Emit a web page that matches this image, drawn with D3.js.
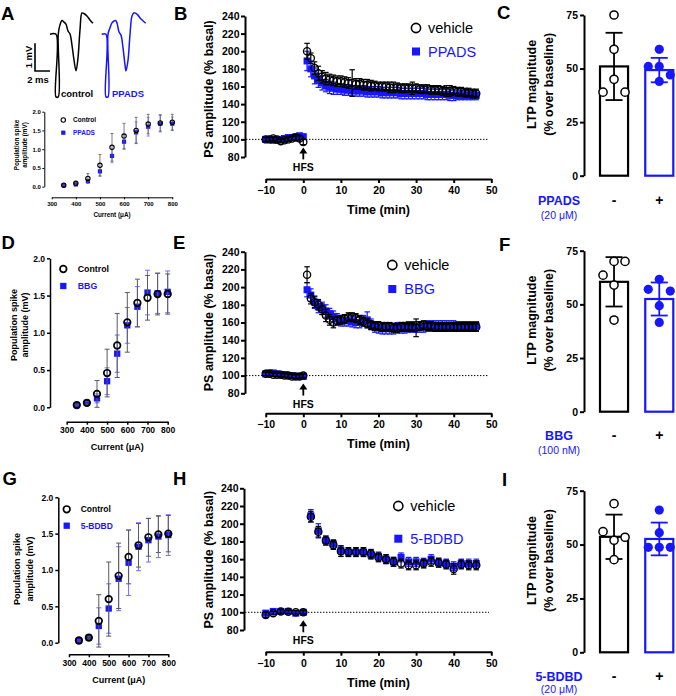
<!DOCTYPE html>
<html>
<head>
<meta charset="utf-8">
<script src="https://cdn.jsdelivr.net/npm/d3@7"></script>
<style>
body { margin: 0; background: #fff; }
</style>
</head>
<body>
<script>
// ---------- data ----------

// A: representative population spike traces (time in ms, amplitude in mV)
var ctrlTraceT = [0, 0.8, 0.8, 1.1, 1.1, 1.33, 1.6, 1.87, 2.13, 2.4, 2.67, 2.93, 3.2, 3.47, 3.73, 4.0, 4.27, 4.53, 4.93, 5.33, 5.73];
var ctrlTraceV = [0, 0, -2.26, -2.26, 0, 0.34, 0.5, 0.44, 0.37, 0.12, 0.01, -0.39, -0.93, -1.32, -0.86, 0.16, 0.77, 0.75, 0.66, 0.52, 0.4];
var drugTraceT = [0, 0.57, 0.57, 0.84, 0.84, 1.1, 1.37, 1.64, 1.84, 2.04, 2.31, 2.57, 2.84, 3.11, 3.24, 3.51, 3.77, 4.04, 4.31, 4.71, 5.24, 5.87];
var drugTraceV = [0, 0, -2.26, -2.26, 0, 0.23, 0.41, 0.48, 0.5, 0.41, 0.08, -0.03, -0.49, -1.11, -1.32, -0.93, -0.03, 0.66, 0.78, 0.73, 0.55, 0.4];
var scaleMv = 1, scaleMs = 2;

// input/output curves (A, D, G)
var currents = [350, 400, 450, 500, 550, 600, 650, 700, 750, 800];
var ioTicksX = [300, 400, 500, 600, 700, 800];
var ioTicksY = [0, 0.5, 1, 1.5, 2];

var aCtrl   = [0.04, 0.09, 0.22, 0.57, 1.05, 1.35, 1.50, 1.67, 1.70, 1.72];
var aCtrlSd = [0.01, 0.03, 0.13, 0.29, 0.37, 0.34, 0.35, 0.26, 0.22, 0.21];
var aDrug   = [0.04, 0.06, 0.15, 0.41, 0.82, 1.20, 1.45, 1.60, 1.68, 1.68];
var aDrugSd = [0.01, 0.02, 0.05, 0.12, 0.18, 0.20, 0.28, 0.25, 0.22, 0.18];

var dCtrl   = [0.03, 0.06, 0.18, 0.46, 0.83, 1.14, 1.40, 1.47, 1.52, 1.52];
var dCtrlSd = [0.01, 0.02, 0.18, 0.32, 0.43, 0.40, 0.32, 0.30, 0.28, 0.27];
var dDrug   = [0.03, 0.06, 0.12, 0.35, 0.72, 1.10, 1.35, 1.54, 1.53, 1.55];
var dDrugSd = [0.01, 0.02, 0.06, 0.18, 0.25, 0.24, 0.27, 0.30, 0.27, 0.28];

var gCtrl   = [0.03, 0.07, 0.30, 0.60, 0.92, 1.18, 1.34, 1.45, 1.49, 1.50];
var gCtrlSd = [0.01, 0.02, 0.36, 0.51, 0.45, 0.37, 0.30, 0.26, 0.25, 0.25];
var gDrug   = [0.03, 0.07, 0.23, 0.47, 0.88, 1.10, 1.32, 1.41, 1.46, 1.48];
var gDrugSd = [0.01, 0.02, 0.25, 0.34, 0.44, 0.45, 0.33, 0.30, 0.29, 0.28];

// LTP time courses (B, E, H)
var tcTicksX = [-10, 0, 10, 20, 30, 40, 50];
var tcTicksY = [80, 100, 120, 140, 160, 180, 200, 220, 240];
var timeDense = [-10, -9, -8, -7, -6, -5, -4, -3, -2, -1, 0,
  1, 2, 3, 4, 5, 6, 7, 8, 9, 10, 11, 12, 13, 14, 15, 16, 17, 18, 19, 20,
  21, 22, 23, 24, 25, 26, 27, 28, 29, 30, 31, 32, 33, 34, 35, 36, 37, 38, 39, 40,
  41, 42, 43, 44, 45, 46];
var timeSparse = [-10, -8, -6, -4, -2, 0,
  2, 4, 6, 8, 10, 12, 14, 16, 18, 20, 22, 24, 26, 28, 30, 32, 34, 36, 38, 40, 42, 44, 46];

var bVeh = [100, 100, 101, 100, 98, 99, 100, 101, 102, 101, 97,
  200, 192, 181, 175, 171, 169, 168, 167, 166, 166,
  165, 164, 164, 163, 163, 162, 162, 161, 161, 160,
  160, 160, 159, 159, 159, 158, 158, 158, 158, 158,
  157, 157, 157, 156, 156, 156, 155, 155, 155, 155,
  154, 154, 153, 153, 152, 152];
var bVehSd = [2, 2, 2, 2, 2, 2, 2, 2, 3, 3, 3,
  9, 6, 7, 8, 7, 7, 6, 6, 6, 6,
  6, 6, 15, 6, 6, 6, 6, 6, 5, 5,
  5, 5, 6, 6, 5, 5, 5, 5, 7, 5,
  5, 5, 5, 5, 5, 5, 5, 6, 6, 5,
  5, 5, 5, 5, 5, 5];
var bDrug = [100, 100, 99, 99, 100, 101, 102, 102, 103, 104, 103,
  189, 180, 172, 167, 164, 161, 159, 158, 157, 157,
  156, 156, 155, 155, 155, 155, 154, 154, 154, 154,
  153, 153, 153, 153, 153, 152, 152, 152, 152, 152,
  152, 152, 151, 151, 151, 151, 151, 151, 150, 150,
  150, 150, 150, 150, 150, 150];
var bDrugSd = [2, 2, 2, 2, 2, 2, 3, 3, 3, 3, 3,
  11, 9, 9, 8, 8, 7, 7, 7, 6, 6,
  6, 6, 6, 6, 6, 6, 6, 6, 6, 6,
  6, 6, 6, 6, 6, 6, 6, 6, 6, 6,
  6, 6, 6, 6, 6, 6, 6, 6, 6, 6,
  5, 5, 5, 5, 5, 5];

var eVeh = [102, 102, 101, 101, 101, 100, 100, 99, 99, 99, 100,
  214, 187, 183, 180, 175, 168, 163, 160, 162, 163,
  164, 166, 166, 165, 163, 161, 159, 157, 156, 156,
  155, 155, 155, 154, 154, 155, 155, 155, 155, 154,
  156, 157, 156, 156, 155, 155, 155, 155, 155, 155,
  155, 155, 155, 155, 155, 155];
var eVehSd = [2, 2, 2, 2, 2, 2, 2, 2, 2, 2, 2,
  9, 6, 6, 6, 6, 7, 6, 6, 5, 5,
  5, 5, 5, 5, 5, 5, 5, 5, 5, 5,
  5, 5, 5, 5, 5, 5, 5, 5, 5, 10,
  5, 5, 5, 5, 5, 5, 5, 5, 5, 5,
  5, 5, 5, 5, 5, 5];
var eDrug = [102, 103, 103, 102, 101, 101, 100, 100, 99, 99, 99,
  197, 191, 183, 178, 176, 173, 170, 167, 164, 162,
  162, 162, 161, 160, 160, 162, 163, 158, 155, 154,
  153, 153, 153, 153, 154, 154, 154, 155, 155, 155,
  155, 155, 156, 156, 156, 156, 156, 156, 156, 156,
  156, 156, 156, 156, 156, 156];
var eDrugSd = [2, 2, 2, 2, 2, 2, 2, 2, 2, 2, 2,
  8, 7, 7, 7, 7, 7, 6, 6, 6, 6,
  6, 6, 6, 6, 6, 6, 9, 6, 6, 6,
  6, 6, 6, 6, 6, 6, 6, 6, 6, 6,
  6, 6, 6, 6, 6, 6, 6, 6, 6, 6,
  5, 5, 5, 5, 5, 5];

var hVeh = [97, 99, 101, 100.5, 100, 100,
  208, 191, 181, 176, 169, 168, 168, 168, 166, 162,
  160, 157, 155, 153, 153, 155, 157, 156, 154, 149,
  154, 153, 153];
var hVehSd = [3, 2, 2, 2, 2, 2,
  6, 6, 5, 5, 6, 5, 5, 5, 5, 5,
  5, 5, 5, 5, 5, 5, 5, 5, 5, 6,
  5, 5, 5];
var hDrug = [99, 101, 101, 101, 99, 100,
  209, 192, 181, 177, 170, 168, 168, 168, 165, 163,
  160, 157, 162, 157, 157, 156, 160, 156, 155, 152,
  155, 155, 155];
var hDrugSd = [3, 2, 2, 2, 2, 2,
  7, 8, 5, 5, 5, 5, 5, 5, 5, 5,
  5, 5, 5, 5, 5, 5, 5, 5, 5, 5,
  5, 5, 5];

// LTP magnitude bars (C, F, I)
var groups = ["-", "+"];
var barTicksY = [0, 25, 50, 75];
var cCtrlPts = [75, 59, 45, 39, 39];
var cDrugPts = [59, 51, 51, 47, 44];
var cMean = [51, 49.3];
var cSd = [15.7, 5.7];
var fCtrlPts = [70, 63.6, 70, 59, 42.7];
var fDrugPts = [61.7, 57, 56.2, 49.4, 41.6];
var fMean = [60.5, 52.5];
var fSd = [11.5, 7.7];
var iCtrlPts = [69, 52, 56, 53.4, 43];
var iDrugPts = [66, 55.5, 48.7, 48.7, 48.7];
var iMean = [53.6, 52.6];
var iSd = [10.3, 7.6];

// ---------- drawing ----------

var FONT = "'Liberation Sans', Arial, Helvetica, sans-serif";
var blue = "#1616ff";
var lightBlue = "#6e6eff";
var grey = "#5a5a5a";

var svg = d3.select("body")
    .append("svg")
    .attr("width", 676)
    .attr("height", 696)
    .style("font-family", FONT);

function styleAxis(a, fs, sw) {
    a.attr("font-family", FONT);
    a.select(".domain").attr("stroke-width", sw);
    a.selectAll(".tick line").attr("stroke-width", sw);
    a.selectAll(".tick text")
        .attr("font-size", fs)
        .attr("font-weight", "bold")
        .attr("fill", "#000");
}

function errBars(g, data, x, y, color, cap, sw) {
    var e = g.append("g").attr("stroke", color).attr("stroke-width", sw);
    data.forEach(function(d) {
        var xx = x(d.x), y1 = y(d.v + d.sd), y2 = y(d.v - d.sd);
        e.append("line").attr("x1", xx).attr("x2", xx).attr("y1", y1).attr("y2", y2);
        e.append("line").attr("x1", xx - cap / 2).attr("x2", xx + cap / 2).attr("y1", y1).attr("y2", y1);
        e.append("line").attr("x1", xx - cap / 2).attr("x2", xx + cap / 2).attr("y1", y2).attr("y2", y2);
    });
}

function zipSeries(xs, vs, sds) {
    return xs.map(function(xv, i) {
        return {x: xv, v: vs[i], sd: sds[i]};
    });
}

function squares(g, data, x, y, side, color) {
    g.append("g").selectAll("rect").data(data).enter()
        .append("rect")
        .attr("x", function(d) { return x(d.x) - side / 2; })
        .attr("y", function(d) { return y(d.v) - side / 2; })
        .attr("width", side)
        .attr("height", side)
        .attr("fill", color);
}

function rings(g, data, x, y, r, sw) {
    g.append("g").selectAll("circle").data(data).enter()
        .append("circle")
        .attr("cx", function(d) { return x(d.x); })
        .attr("cy", function(d) { return y(d.v); })
        .attr("r", r)
        .attr("fill", "none")
        .attr("stroke", "#000")
        .attr("stroke-width", sw);
}

function rotLabel(g, cx, cy, fs, lines, gap) {
    var t = g.append("text")
        .attr("transform", "translate(" + (cx + 0.36 * fs) + "," + cy + ") rotate(-90)")
        .attr("text-anchor", "middle")
        .attr("font-size", fs)
        .attr("font-weight", "bold");
    lines.forEach(function(l, i) {
        t.append("tspan").attr("x", 0).attr("y", i * gap).text(l);
    });
}

// panel letters
var letters = ["A", "B", "C", "D", "E", "F", "G", "H", "I"];
var letterPos = [[1, 19.5], [174, 19.5], [497, 18.5], [1.5, 249], [173, 249], [499, 250.5], [2.5, 485], [173, 485], [502, 486]];
letters.forEach(function(l, i) {
    svg.append("text")
        .attr("x", letterPos[i][0])
        .attr("y", letterPos[i][1])
        .attr("font-size", 18.5)
        .attr("font-weight", "bold")
        .text(l);
});

// ---- A: traces ----
function trace(ts, vs, x0, color) {
    var x = d3.scaleLinear().domain([0, scaleMs]).range([x0, x0 + 15]);
    var y = d3.scaleLinear().domain([0, scaleMv]).range([34.3, 6.6]);
    var pts = ts.map(function(t, i) { return [t, vs[i]]; });
    svg.append("path")
        .attr("d", d3.line()
            .x(function(d) { return x(d[0]); })
            .y(function(d) { return y(d[1]); })
            .curve(d3.curveCatmullRom.alpha(0.5))(pts))
        .attr("fill", "none")
        .attr("stroke", color)
        .attr("stroke-width", 1.5);
    return {x: x, y: y};
}

var ctrlSc = trace(ctrlTraceT, ctrlTraceV, 50, "#000");
trace(drugTraceT, drugTraceV, 101.7, blue);

// scale bar
svg.append("path")
    .attr("d", d3.line()([
        [ctrlSc.x(-scaleMs), ctrlSc.y(-0.325)],
        [ctrlSc.x(-scaleMs), ctrlSc.y(-0.325 - scaleMv)],
        [ctrlSc.x(0), ctrlSc.y(-0.325 - scaleMv)]
    ]))
    .attr("fill", "none")
    .attr("stroke", "#000")
    .attr("stroke-width", 1.6);
svg.append("text")
    .attr("transform", "translate(31.5,57) rotate(-90)")
    .attr("text-anchor", "middle")
    .attr("font-size", 9.5)
    .attr("font-weight", "bold")
    .text("1 mV");
svg.append("text")
    .attr("x", 38).attr("y", 82.5)
    .attr("text-anchor", "middle")
    .attr("font-size", 9.5)
    .attr("font-weight", "bold")
    .text("2 ms");
svg.append("text").attr("x", 61).attr("y", 97).attr("font-size", 9.5).attr("font-weight", "bold").text("control");
svg.append("text").attr("x", 112).attr("y", 97).attr("font-size", 9.5).attr("font-weight", "bold").attr("fill", blue).text("PPADS");

// ---- input/output curves ----
function ioCurve(o) {
    var x = d3.scaleLinear().domain([300, 800]).range([o.x0, o.x1]);
    var y = d3.scaleLinear().domain([0, 2]).range([o.y0, o.y2]);
    var g = svg.append("g");

    var ya = g.append("g")
        .attr("transform", "translate(" + o.ax + ",0)")
        .call(d3.axisLeft(y).tickValues(ioTicksY).tickFormat(d3.format(".1f"))
            .tickSize(o.tk).tickPadding(o.tp).tickSizeOuter(0));
    var xa = g.append("g")
        .attr("transform", "translate(0," + o.ay + ")")
        .call(d3.axisBottom(x).tickValues(ioTicksX)
            .tickSize(o.tk).tickPadding(o.tp + 0.5).tickSizeOuter(0));
    styleAxis(ya, o.fs, o.sw);
    styleAxis(xa, o.fs, o.sw);

    g.append("text")
        .attr("x", (o.x0 + o.x1) / 2)
        .attr("y", o.xly)
        .attr("text-anchor", "middle")
        .attr("font-size", o.lfs)
        .attr("font-weight", "bold")
        .text("Current (\u03bcA)");
    rotLabel(g, o.ylx, o.yly, o.lfs, ["Population spike", "amplitude (mV)"], o.gap);

    var ctrl = zipSeries(currents, o.ctrl, o.ctrlSd);
    var drug = zipSeries(currents, o.drug, o.drugSd);
    errBars(g, drug, x, y, lightBlue, o.cap, o.esw);
    squares(g, drug, x, y, o.sq, blue);
    errBars(g, ctrl, x, y, grey, o.cap, o.esw);
    rings(g, ctrl, x, y, o.r, o.rsw);

    // legend
    g.append("circle").attr("cx", o.lx).attr("cy", o.ly1).attr("r", o.r)
        .attr("fill", "none").attr("stroke", "#000").attr("stroke-width", o.rsw);
    g.append("rect").attr("x", o.lx - o.sq / 2).attr("y", o.ly2 - o.sq / 2)
        .attr("width", o.sq).attr("height", o.sq).attr("fill", blue);
    g.append("text").attr("x", o.ltx).attr("y", o.ly1 + 0.36 * o.lgfs)
        .attr("font-size", o.lgfs).attr("font-weight", "bold").text("Control");
    g.append("text").attr("x", o.ltx).attr("y", o.ly2 + 0.36 * o.lgfs)
        .attr("font-size", o.lgfs).attr("font-weight", "bold").attr("fill", blue).text(o.name);
}

ioCurve({x0: 51.7, x1: 172.3, y0: 186.7, y2: 111.7, ax: 44.3, ay: 197.3,
    tk: 2, tp: 1.5, fs: 6, sw: 1, lfs: 6.3, xly: 216.5, ylx: 16.7, yly: 145, gap: 8.3,
    cap: 3, esw: 0.8, sq: 4.2, r: 2.2, rsw: 1.1,
    lx: 63.3, ly1: 120, ly2: 132.7, ltx: 73, lgfs: 6.5, name: "PPADS",
    ctrl: aCtrl, ctrlSd: aCtrlSd, drug: aDrug, drugSd: aDrugSd});

ioCurve({x0: 66.7, x1: 167.7, y0: 407.3, y2: 258.3, ax: 50, ay: 421.7,
    tk: 3, tp: 2, fs: 8.5, sw: 1.5, lfs: 9, xly: 450, ylx: 13.3, yly: 325, gap: 11.7,
    cap: 5, esw: 1, sq: 6.3, r: 3.3, rsw: 1.7,
    lx: 63.3, ly1: 269, ly2: 286, ltx: 77.7, lgfs: 8.8, name: "BBG",
    ctrl: dCtrl, ctrlSd: dCtrlSd, drug: dDrug, drugSd: dDrugSd});

ioCurve({x0: 69, x1: 168.3, y0: 642.7, y2: 497.3, ax: 58.3, ay: 654.3,
    tk: 3, tp: 2, fs: 8.5, sw: 1.5, lfs: 9, xly: 682.5, ylx: 16.7, yly: 569, gap: 13.3,
    cap: 5, esw: 1, sq: 6.3, r: 3.3, rsw: 1.7,
    lx: 66.7, ly1: 509.3, ly2: 525.7, ltx: 80.7, lgfs: 8.5, name: "5-BDBD",
    ctrl: gCtrl, ctrlSd: gCtrlSd, drug: gDrug, drugSd: gDrugSd});

// ---- LTP time courses ----
function timeCourse(o) {
    var x = d3.scaleLinear().domain([-10, 50]).range([265.7, 491.3]);
    var y = d3.scaleLinear().domain([80, 240]).range([o.yBot, o.yTop]);
    var g = svg.append("g");

    var ya = g.append("g")
        .attr("transform", "translate(" + o.ax + ",0)")
        .call(d3.axisLeft(y).tickValues(tcTicksY).tickSize(4).tickPadding(1.5).tickSizeOuter(0));
    var xa = g.append("g")
        .attr("transform", "translate(0," + o.ay + ")")
        .call(d3.axisBottom(x).tickValues(tcTicksX).tickSize(4).tickPadding(3.5).tickSizeOuter(0));
    styleAxis(ya, 10.5, 2);
    styleAxis(xa, 10.5, 2);

    g.append("text")
        .attr("x", 378.5)
        .attr("y", o.ay + 35)
        .attr("text-anchor", "middle")
        .attr("font-size", 12.5)
        .attr("font-weight", "bold")
        .text("Time (min)");
    rotLabel(g, 208, o.yly, 12.5, ["PS amplitude (% basal)"], 0);

    // baseline
    g.append("line")
        .attr("x1", o.ax + 1).attr("x2", 489)
        .attr("y1", y(100)).attr("y2", y(100))
        .attr("stroke", "#000").attr("stroke-width", 1)
        .attr("stroke-dasharray", "1.4,1.6");

    // HFS arrow
    var tip = y(100) + 8;
    g.append("line").attr("x1", x(0)).attr("x2", x(0)).attr("y1", tip + 4).attr("y2", tip + 12)
        .attr("stroke", "#000").attr("stroke-width", 1.8);
    g.append("path")
        .attr("d", "M" + (x(0) - 4) + "," + (tip + 6) + "L" + x(0) + "," + tip + "L" + (x(0) + 4) + "," + (tip + 6) + "Z")
        .attr("fill", "#000");
    g.append("text").attr("x", x(0)).attr("y", tip + 24)
        .attr("text-anchor", "middle").attr("font-size", 10.5).attr("font-weight", "bold").text("HFS");

    var veh = zipSeries(o.t, o.veh, o.vehSd);
    var drug = zipSeries(o.t, o.drug, o.drugSd);
    errBars(g, drug, x, y, blue, 5.5, 1.2);
    squares(g, drug, x, y, 7, blue);
    errBars(g, veh, x, y, "#000", 5.5, 1.2);
    rings(g, veh, x, y, 3.6, 1.3);

    // legend
    g.append("circle").attr("cx", o.lx).attr("cy", o.ly1).attr("r", 4.6)
        .attr("fill", "none").attr("stroke", "#000").attr("stroke-width", 1.6);
    g.append("rect").attr("x", o.lx - 4).attr("y", o.ly2 - 4)
        .attr("width", 8).attr("height", 8).attr("fill", blue);
    g.append("text").attr("x", o.lx + 12).attr("y", o.ly1 + 5).attr("font-size", 14.5).text("vehicle");
    g.append("text").attr("x", o.lx + 12).attr("y", o.ly2 + 5).attr("font-size", 14.5)
        .attr("fill", blue).text(o.name);
}

timeCourse({yBot: 157, yTop: 16, ax: 245, ay: 179, yly: 89, lx: 416, ly1: 28, ly2: 51.5,
    name: "PPADS", t: timeDense, veh: bVeh, vehSd: bVehSd, drug: bDrug, drugSd: bDrugSd});
timeCourse({yBot: 393.3, yTop: 251.7, ax: 245, ay: 413.3, yly: 322.5, lx: 392.3, ly1: 265, ly2: 289,
    name: "BBG", t: timeDense, veh: eVeh, vehSd: eVehSd, drug: eDrug, drugSd: eDrugSd});
timeCourse({yBot: 630, yTop: 488.3, ax: 244, ay: 651.7, yly: 559.7, lx: 398.3, ly1: 506, ly2: 538.7,
    name: "5-BDBD", t: timeSparse, veh: hVeh, vehSd: hVehSd, drug: hDrug, drugSd: hDrugSd});

// ---- LTP magnitude bars ----
function swarm(vals, y) {
    var placed = [];
    var tries = [0, -11, 11, -22, 22];
    return vals.map(function(v) {
        var py = y(v);
        for (var i = 0; i < tries.length; i++) {
            var dx = tries[i];
            var hit = placed.some(function(p) {
                var a = (p.dx - dx) / 10, b = (p.py - py) / 14;
                return a * a + b * b < 1;
            });
            if (!hit) {
                placed.push({dx: dx, py: py});
                return dx;
            }
        }
        return 0;
    });
}

function barPanel(o) {
    var y = d3.scaleLinear().domain([0, 75]).range([o.y0, o.y75]);
    var x = d3.scaleBand().domain(groups).range([600, 673.3]).paddingInner(0.38);
    var g = svg.append("g");

    var ya = g.append("g")
        .attr("transform", "translate(584,0)")
        .call(d3.axisLeft(y).tickValues(barTicksY).tickSize(4).tickPadding(2).tickSizeOuter(0));
    styleAxis(ya, 10.5, 2);

    rotLabel(g, 531.7, (o.y0 + o.y75) / 2 - 11, 12.5, ["LTP magnitude", "(% over baseline)"], 16.6);

    var cols = ["#000", blue];
    var pts = [o.ctrl, o.drug];
    groups.forEach(function(gr, i) {
        var cx = x(gr) + x.bandwidth() / 2;
        g.append("rect")
            .attr("x", x(gr))
            .attr("y", y(o.mean[i]))
            .attr("width", x.bandwidth())
            .attr("height", y(0) - y(o.mean[i]))
            .attr("fill", "#fff")
            .attr("stroke", cols[i])
            .attr("stroke-width", 2.2);
        var top = y(o.mean[i] + o.sd[i]), bot = y(o.mean[i] - o.sd[i]);
        var e = g.append("g").attr("stroke", cols[i]).attr("stroke-width", 1.8);
        e.append("line").attr("x1", cx).attr("x2", cx).attr("y1", top).attr("y2", bot);
        e.append("line").attr("x1", cx - 8.5).attr("x2", cx + 8.5).attr("y1", top).attr("y2", top);
        e.append("line").attr("x1", cx - 8.5).attr("x2", cx + 8.5).attr("y1", bot).attr("y2", bot);

        var offs = swarm(pts[i], y);
        g.append("g").selectAll("circle").data(pts[i]).enter()
            .append("circle")
            .attr("cx", function(d, j) { return cx + offs[j]; })
            .attr("cy", function(d) { return y(d); })
            .attr("r", i === 0 ? 4.1 : 4.6)
            .attr("fill", i === 0 ? "#fff" : blue)
            .attr("stroke", i === 0 ? "#000" : "none")
            .attr("stroke-width", 1.5);

        g.append("text")
            .attr("x", cx)
            .attr("y", o.labY)
            .attr("text-anchor", "middle")
            .attr("font-size", 14)
            .attr("font-weight", "bold")
            .text(gr);
    });

    g.append("text")
        .attr("x", 559).attr("y", o.labY)
        .attr("text-anchor", "middle")
        .attr("font-size", 12.5).attr("font-weight", "bold")
        .attr("fill", blue)
        .text(o.name);
    g.append("text")
        .attr("x", 559).attr("y", o.labY + o.concGap)
        .attr("text-anchor", "middle")
        .attr("font-size", 10.5)
        .attr("fill", blue)
        .text(o.conc);
}

barPanel({y0: 175.7, y75: 15, labY: 204.5, concGap: 14, name: "PPADS", conc: "(20 \u03bcM)",
    ctrl: cCtrlPts, drug: cDrugPts, mean: cMean, sd: cSd});
barPanel({y0: 411.7, y75: 250.7, labY: 440, concGap: 13.5, name: "BBG", conc: "(100 nM)",
    ctrl: fCtrlPts, drug: fDrugPts, mean: fMean, sd: fSd});
barPanel({y0: 652.3, y75: 490.7, labY: 680.5, concGap: 12.5, name: "5-BDBD", conc: "(20 \u03bcM)",
    ctrl: iCtrlPts, drug: iDrugPts, mean: iMean, sd: iSd});
</script>
</body>
</html>
